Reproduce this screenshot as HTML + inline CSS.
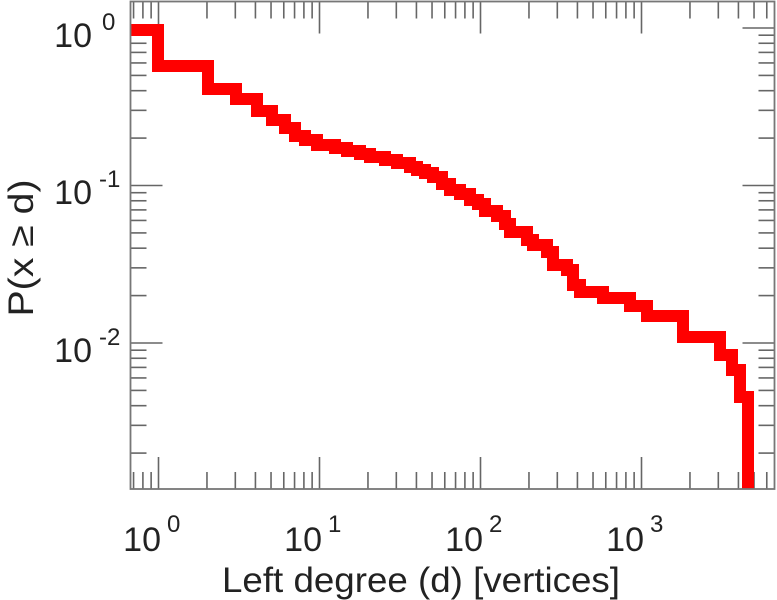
<!DOCTYPE html>
<html><head><meta charset="utf-8"><style>
html,body{margin:0;padding:0;background:#fff;}
svg{display:block;font-family:"Liberation Sans",sans-serif;}
</style></head><body>
<svg id="s" width="777" height="600" viewBox="0 0 777 600" xmlns="http://www.w3.org/2000/svg">
<defs><clipPath id="c"><rect x="130.5" y="1.5" width="644" height="487.5"/></clipPath></defs>
<g id="ticks" stroke="#666" stroke-width="1.6"></g>
<polyline clip-path="url(#c)" fill="none" stroke="#ff0000" stroke-width="12" stroke-linejoin="miter" points="128,30 158,30 158,66 208,66 208,89 236,89 236,99 257,99 257,111 272,111 272,120 285,120 285,128 295,128 295,136 305,136 305,140 317,140 317,145 330,145 335,145 335,148 347,148 347,151 360,151 360,154 370,154 370,157 385,157 385,160 397,160 397,163 410,163 410,167 417,167 417,170 425,170 425,173 433,173 433,177 442,177 442,184 450,184 450,190 460,190 460,194 470,194 470,200 478,200 478,204 485,204 485,211 497,211 497,216 505,216 505,224 510,224 510,232 527,232 527,240 533,240 533,245 547,245 547,252 553,252 553,265 567,265 567,270 573,270 573,285 580,285 580,292 603,292 603,298 630,298 630,306 647,306 647,316 683,316 683,337 720,337 720,355 732,355 732,370 740,370 740,397 748,397 748,495"/>
<rect x="130.5" y="1.5" width="644" height="487.5" fill="none" stroke="#777" stroke-width="1.8"/>
<g fill="#222">
<text x="92" y="47" font-size="34" text-anchor="end">10</text><text x="102" y="30" font-size="24">0</text>
<text x="92" y="204" font-size="34" text-anchor="end">10</text><text x="99" y="187" font-size="24">-1</text>
<text x="92" y="362" font-size="34" text-anchor="end">10</text><text x="99" y="345" font-size="24">-2</text>
<text x="161" y="551" font-size="34" text-anchor="end">10</text><text x="167" y="532" font-size="24">0</text>
<text x="322" y="551" font-size="34" text-anchor="end">10</text><text x="328" y="532" font-size="24">1</text>
<text x="483" y="551" font-size="34" text-anchor="end">10</text><text x="489" y="532" font-size="24">2</text>
<text x="644" y="551" font-size="34" text-anchor="end">10</text><text x="650" y="532" font-size="24">3</text>
<text x="222" y="592" font-size="35" textLength="398" lengthAdjust="spacingAndGlyphs">Left degree (d) [vertices]</text>
<text transform="translate(33,248) rotate(-90)" font-size="35" text-anchor="middle" textLength="137" lengthAdjust="spacingAndGlyphs">P(x ≥ d)</text>
</g>
</svg>
<script>
(function(){
var g=document.getElementById('ticks'),o='';
function L(a,b,c,d){o+='<line x1="'+a+'" y1="'+b+'" x2="'+c+'" y2="'+d+'"/>';}
for(var k=-4;k<=1;k++){for(var m=1;m<=9;m++){
 var y=28-157.5*(k+Math.log10(m));
 if(y>2&&y<488){var len=m==1?32:16;L(130.5,y,130.5+len,y);L(774.5,y,774.5-len,y);}
}}
for(var k=-1;k<=4;k++){for(var m=1;m<=9;m++){
 var x=158.5+161*(k+Math.log10(m));
 if(x>131&&x<774){var len=m==1?32:17;L(x,1.5,x,1.5+len);L(x,489,x,489-len);}
}}
g.innerHTML=o;
})();
</script>
</body></html>
